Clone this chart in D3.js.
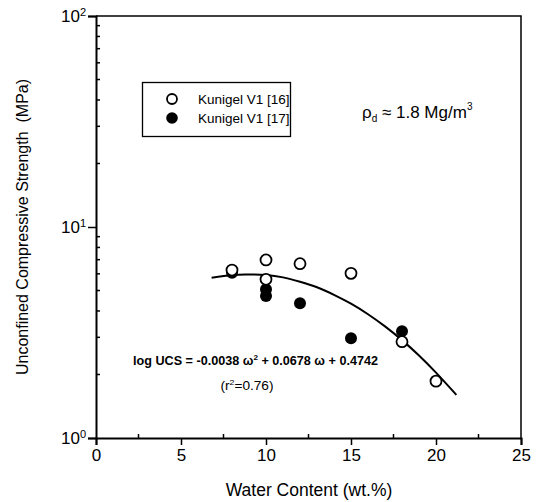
<!DOCTYPE html>
<html>
<head>
<meta charset="utf-8">
<script src="https://cdn.jsdelivr.net/npm/d3@7"></script>
<style>
  body { margin: 0; background: #fff; }
  svg { font-family: "Liberation Sans", Arial, sans-serif; }
</style>
</head>
<body>
<div id="chart"></div>
<script>
// Data
const openW = [8, 10, 10, 12, 15, 18, 20];
const openUCS = [6.25, 6.98, 5.65, 6.7, 6.03, 2.86, 1.86];
const filledW = [8, 10, 10, 12, 15, 18];
const filledUCS = [6.07, 5.07, 4.71, 4.35, 2.97, 3.21];
// fitted curve
const fitW = [6.8, 8, 9, 10, 11, 12, 13, 14, 15, 16, 17, 18, 19, 20, 21.2];
const fitUCS = [5.75, 5.93, 5.96, 5.92, 5.77, 5.5, 5.18, 4.77, 4.33, 3.86, 3.38, 2.91, 2.46, 2.04, 1.6];
const xTicks = [0, 5, 10, 15, 20, 25];
const xMinor = [2.5, 7.5, 12.5, 17.5, 22.5];
const yTicks = [1, 10, 100];
const legendLabels = ['Kunigel V1 [16]', 'Kunigel V1 [17]'];

const width = 538, height = 502;
const margin = { top: 16, right: 17, bottom: 64, left: 96 };
const w = width - margin.left - margin.right;
const h = height - margin.top - margin.bottom;
const font = '"Liberation Sans", Arial, sans-serif';

const svg = d3.select('#chart').append('svg')
  .attr('width', width)
  .attr('height', height);

const g = svg.append('g')
  .attr('transform', `translate(${margin.left},${margin.top})`);

const x = d3.scaleLinear().domain([0, 25]).range([0, w]);
const y = d3.scaleLog().domain([1, 100]).range([h, 0]);

// frame (top and right)
g.append('path')
  .attr('d', `M0,0H${w}V${h}`)
  .attr('fill', 'none')
  .attr('stroke', '#000')
  .attr('stroke-width', 1.5);

// x axis
const xAxis = g.append('g')
  .attr('transform', `translate(0,${h})`)
  .call(d3.axisBottom(x).tickValues(xTicks).tickSize(7).tickPadding(4));
xAxis.select('.domain').attr('stroke-width', 2);
xAxis.selectAll('.tick line').attr('stroke-width', 1.5);
xAxis.selectAll('.tick text')
  .attr('font-size', 17)
  .attr('font-family', font);

xAxis.selectAll('.minor')
  .data(xMinor)
  .enter().append('line')
  .attr('class', 'minor')
  .attr('x1', d => x(d)).attr('x2', d => x(d))
  .attr('y1', 0).attr('y2', -4)
  .attr('stroke', '#000')
  .attr('stroke-width', 1.5);

// y axis
const yAxis = g.append('g')
  .call(d3.axisLeft(y).tickValues(yTicks).tickSize(8).tickFormat(''));
yAxis.select('.domain').attr('stroke-width', 2);
yAxis.selectAll('.tick line').attr('stroke-width', 1.5);

yAxis.selectAll('.tick')
  .append('text')
  .attr('x', -10)
  .attr('dy', '0.35em')
  .attr('text-anchor', 'end')
  .attr('fill', '#000')
  .attr('font-size', 17)
  .attr('font-family', font)
  .each(function (d) {
    const t = d3.select(this);
    t.append('tspan').text('10');
    t.append('tspan')
      .attr('font-size', 11)
      .attr('dy', '-0.6em')
      .text(Math.round(Math.log10(d)));
  });

const yMinor = [];
[1, 10].forEach(dec => {
  for (let k = 2; k <= 9; k++) yMinor.push(dec * k);
});
yAxis.selectAll('.minor')
  .data(yMinor)
  .enter().append('line')
  .attr('class', 'minor')
  .attr('x1', 0).attr('x2', 4)
  .attr('y1', d => y(d)).attr('y2', d => y(d))
  .attr('stroke', '#000')
  .attr('stroke-width', 1.5);

// axis titles
svg.append('text')
  .attr('x', 309)
  .attr('y', 496)
  .attr('text-anchor', 'middle')
  .attr('font-size', 17.5)
  .text('Water Content (wt.%)');

svg.append('text')
  .attr('transform', `translate(28,${margin.top + h / 2}) rotate(-90)`)
  .attr('text-anchor', 'middle')
  .attr('font-size', 16)
  .attr('xml:space', 'preserve')
  .style('white-space', 'pre')
  .text('Unconfined Compressive Strength  (MPa)');

// fitted curve
const fit = fitW.map((d, i) => ({ w: d, u: fitUCS[i] }));
g.append('path')
  .datum(fit)
  .attr('fill', 'none')
  .attr('stroke', '#000')
  .attr('stroke-width', 2)
  .attr('d', d3.line().x(d => x(d.w)).y(d => y(d.u)).curve(d3.curveNatural));

// points
const filled = filledW.map((d, i) => ({ w: d, u: filledUCS[i] }));
const open = openW.map((d, i) => ({ w: d, u: openUCS[i] }));

g.selectAll('.filled')
  .data(filled)
  .enter().append('circle')
  .attr('class', 'filled')
  .attr('cx', d => x(d.w))
  .attr('cy', d => y(d.u))
  .attr('r', 6)
  .attr('fill', '#000');

g.selectAll('.open')
  .data(open)
  .enter().append('circle')
  .attr('class', 'open')
  .attr('cx', d => x(d.w))
  .attr('cy', d => y(d.u))
  .attr('r', 5.5)
  .attr('fill', '#fff')
  .attr('stroke', '#000')
  .attr('stroke-width', 1.8);

// legend
const legend = svg.append('g');
legend.append('rect')
  .attr('x', 142.5).attr('y', 82.5)
  .attr('width', 148).attr('height', 54)
  .attr('fill', '#fff')
  .attr('stroke', '#000')
  .attr('stroke-width', 1.3);

legendLabels.forEach((lab, i) => {
  const cy = 99 + i * 19;
  legend.append('circle')
    .attr('cx', 172).attr('cy', cy)
    .attr('r', i === 0 ? 5 : 5.8)
    .attr('fill', i === 0 ? '#fff' : '#000')
    .attr('stroke', '#000')
    .attr('stroke-width', i === 0 ? 1.8 : 0);
  legend.append('text')
    .attr('x', 198).attr('y', cy)
    .attr('dy', '0.35em')
    .attr('font-size', 13.5)
    .text(lab);
});

// density annotation
const rho = svg.append('text')
  .attr('x', 362).attr('y', 118)
  .attr('font-size', 17);
rho.append('tspan').text('ρ');
rho.append('tspan').attr('font-size', 10).attr('dy', 4).text('d');
rho.append('tspan').attr('dy', -4).text(' ≈ 1.8 Mg/m');
rho.append('tspan').attr('font-size', 10).attr('dy', -8).text('3');

// fit equation
const eq = svg.append('text')
  .attr('x', 133).attr('y', 365)
  .attr('font-size', 12.5)
  .attr('font-weight', 'bold')
  .attr('textLength', 245)
  .attr('lengthAdjust', 'spacingAndGlyphs');
eq.append('tspan').text('log UCS = -0.0038 ω');
eq.append('tspan').attr('font-size', 8).attr('dy', -5).text('2');
eq.append('tspan').attr('dy', 5).text(' + 0.0678 ω + 0.4742');

const r2 = svg.append('text')
  .attr('x', 247).attr('y', 390)
  .attr('text-anchor', 'middle')
  .attr('font-size', 12.5)
  .attr('textLength', 53)
  .attr('lengthAdjust', 'spacingAndGlyphs');
r2.append('tspan').text('(r');
r2.append('tspan').attr('font-size', 8).attr('dy', -5).text('2');
r2.append('tspan').attr('dy', 5).text('=0.76)');
</script>
</body>
</html>
